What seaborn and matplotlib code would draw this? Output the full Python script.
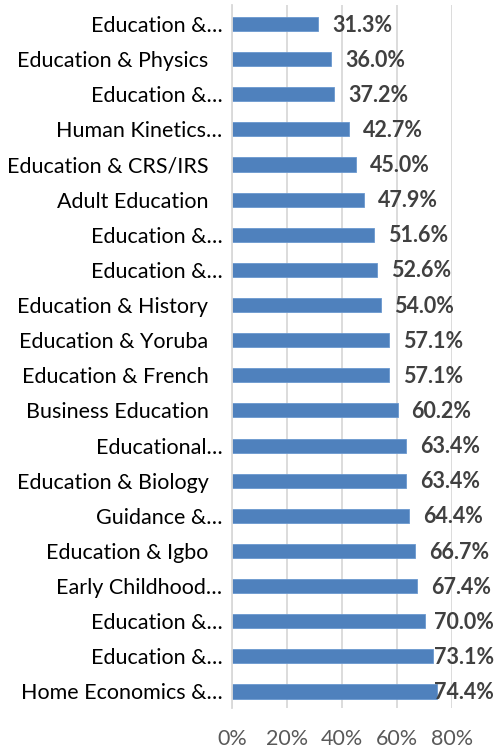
import matplotlib
matplotlib.use("Agg")
import matplotlib.pyplot as plt
import seaborn as sns
import pandas as pd
from matplotlib.ticker import PercentFormatter

categories = [
    "Education &…", "Education & Physics", "Education &…", "Human Kinetics…",
    "Education & CRS/IRS", "Adult Education", "Education &…", "Education &…",
    "Education & History", "Education & Yoruba", "Education & French",
    "Business Education", "Educational…", "Education & Biology", "Guidance &…",
    "Education & Igbo", "Early Childhood…", "Education &…", "Education &…",
    "Home Economics &…",
]
values = [31.3, 36.0, 37.2, 42.7, 45.0, 47.9, 51.6, 52.6, 54.0, 57.1, 57.1,
          60.2, 63.4, 63.4, 64.4, 66.7, 67.4, 70.0, 73.1, 74.4]
x_ticks = [0, 20, 40, 60, 80]

sns.set_style("white")
plt.rcParams["font.family"] = ["Lato", "DejaVu Sans"]

df = pd.DataFrame({"pos": range(len(categories)), "value": values})

fig = plt.figure(figsize=(4.98, 7.51), dpi=100)
ax = fig.add_axes([232 / 498, 43 / 751, 220 / 498, 703 / 751])

sns.barplot(data=df, x="value", y="pos", orient="h", color="#4F81BD",
            saturation=1, width=0.4, edgecolor="#6A98CF", linewidth=0.6,
            ax=ax, zorder=3)

ax.set_xlim(0, 80)
ax.set_ylim(19.47, -0.54)
ax.set_xticks(x_ticks)
ax.xaxis.set_major_formatter(PercentFormatter(decimals=0))
ax.set_yticks(range(len(categories)))
ax.set_yticklabels(categories)
ax.set_xlabel("")
ax.set_ylabel("")

for s in ["top", "right", "bottom"]:
    ax.spines[s].set_visible(False)
ax.spines["left"].set_color("#D9D9D9")
ax.spines["left"].set_linewidth(1.3)
ax.spines["left"].set_zorder(4)

ax.grid(axis="x", color="#D9D9D9", linewidth=1.3, zorder=0)
ax.grid(axis="y", visible=False)

ax.tick_params(axis="x", length=0, pad=15, labelsize=15.5, labelcolor="#595959")
ax.tick_params(axis="y", length=0, labelsize=15.5, labelcolor="#000000")

for i, t in enumerate(ax.yaxis.get_major_ticks()):
    full = not categories[i].endswith("…")
    t.set_pad(17 if full else 7)

fig.canvas.draw()
renderer = fig.canvas.get_renderer()
limit = 80 + (494 - 452) / 220 * 80
offset = 14 / 220 * 80
for i, v in enumerate(values):
    txt = ax.text(v + offset, i + 0.03, f"{v:.1f}%", ha="left", va="center",
                  fontsize=15.5, fontweight="bold", color="#404040",
                  clip_on=False, zorder=5)
    bb = txt.get_window_extent(renderer)
    inv = ax.transData.inverted()
    x1 = inv.transform((bb.x1, bb.y0))[0]
    if x1 > limit:
        txt.set_x(limit)
        txt.set_ha("right")

fig.savefig("out.png", dpi=100)
